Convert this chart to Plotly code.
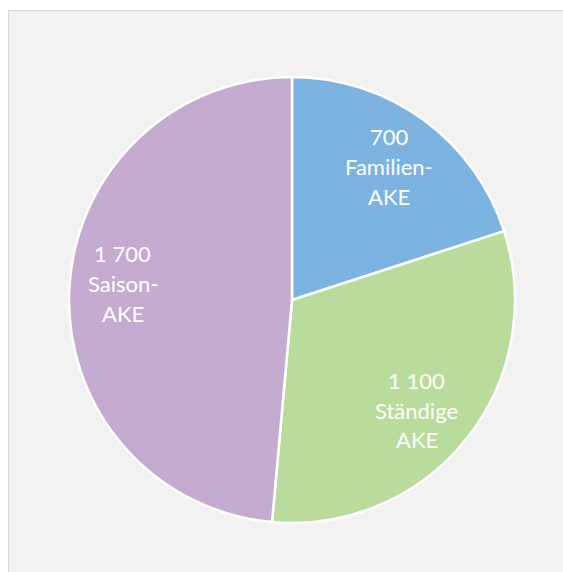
import math
import plotly.graph_objects as go

# Data
labels = ["Familien-AKE", "Ständige AKE", "Saison-AKE"]
values = [700, 1100, 1700]
value_text = ["700", "1 100", "1 700"]
label_lines = [["Familien-", "AKE"], ["Ständige", "AKE"], ["Saison-", "AKE"]]
colors = ["#7cb3e1", "#b9dc9d", "#c5abd0"]

W, H = 563, 572
cx, cy, R = 292, 300, 223
# small cosmetic nudges of the label blocks (pixels)
nudges = [(-1, 2), (-6, 6), (-2, -9)]

fig = go.Figure()
fig.add_trace(go.Pie(
    labels=labels,
    values=values,
    sort=False,
    direction="clockwise",
    rotation=0,
    textinfo="none",
    hoverinfo="label+value",
    marker=dict(colors=colors, line=dict(color="white", width=2.5)),
    domain=dict(x=[(cx - R) / W, (cx + R) / W], y=[1 - (cy + R) / H, 1 - (cy - R) / H]),
    showlegend=False,
))

# Label positions derived from the data (slice bisectors)
total = sum(values)
annotations = []
cum = 0
for v, vt, lines, (nx, ny) in zip(values, value_text, label_lines, nudges):
    mid = (cum + v / 2) / total * 2 * math.pi
    cum += v
    rr = 0.75 * R
    px = cx + rr * math.sin(mid) + nx
    py = cy - rr * math.cos(mid) + ny
    all_lines = [vt] + lines
    n = len(all_lines)
    for i, t in enumerate(all_lines):
        ly = py + (i - (n - 1) / 2) * 29.7
        annotations.append(dict(
            x=px / W, y=1 - ly / H, xref="paper", yref="paper",
            text=t, showarrow=False, xanchor="center", yanchor="middle",
            font=dict(family="Lato, 'Open Sans', sans-serif", size=22, color="white"),
        ))

fig.update_layout(
    width=W, height=H,
    margin=dict(l=0, r=0, t=0, b=0),
    paper_bgcolor="white",
    shapes=[dict(
        type="rect", xref="paper", yref="paper",
        x0=8.5 / W, x1=1.05, y0=-0.05, y1=1 - 10.5 / H,
        fillcolor="#f2f2f2", line=dict(color="#d9d9d9", width=1), layer="below",
    )],
    annotations=annotations,
)

fig.write_html(
    "out.html",
    config={"displayModeBar": False},
    post_script="document.body.style.margin='0';document.documentElement.style.overflow='hidden';",
)
